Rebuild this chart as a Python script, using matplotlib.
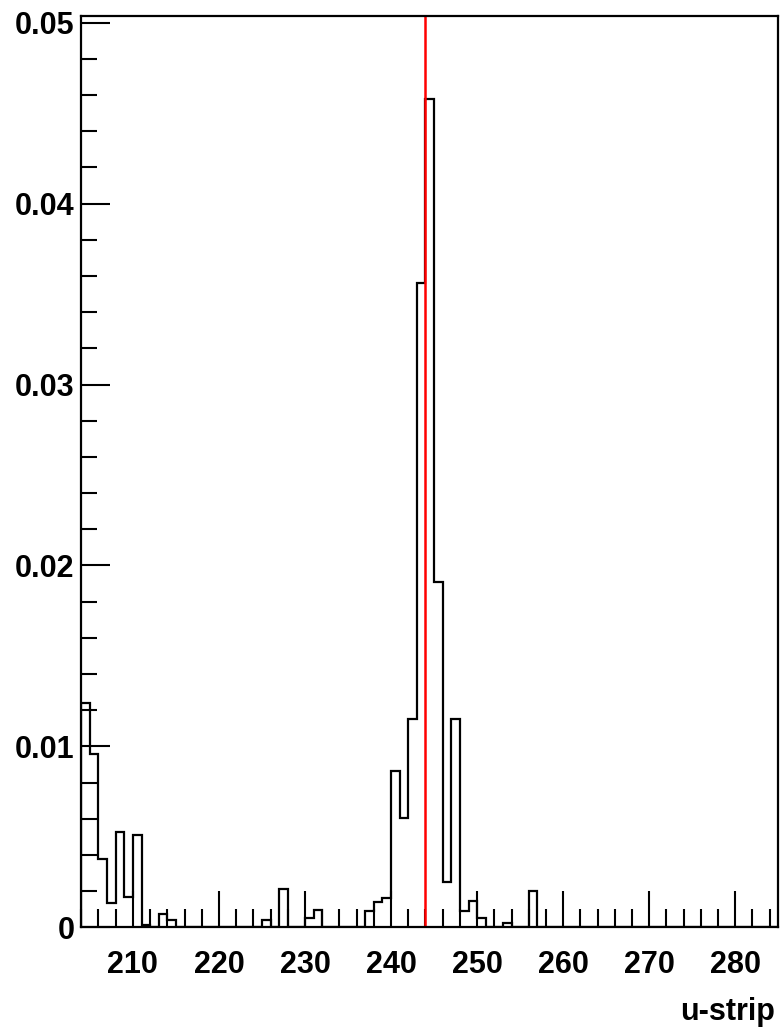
import numpy as np
import matplotlib
matplotlib.use("Agg")
import matplotlib.pyplot as plt
from matplotlib.ticker import MultipleLocator, FuncFormatter

# ---- data ----
x_min, x_max = 204, 285
bin_edges = np.arange(x_min, x_max + 1, 1)
counts = [
    0.01241, 0.00957, 0.00377, 0.00136, 0.00525, 0.00166, 0.00510, 0.00013,  # 204-211
    0.0, 0.00074, 0.00042,                                                    # 212-214
    0.0, 0.0, 0.0, 0.0, 0.0, 0.0, 0.0, 0.0, 0.0, 0.0,                         # 215-224
    0.00042, 0.0, 0.00212, 0.0, 0.0, 0.00053, 0.00094,                        # 225-231
    0.0, 0.0, 0.0, 0.0, 0.0,                                                  # 232-236
    0.00090, 0.00141, 0.00163, 0.00865, 0.00602, 0.01150, 0.03560, 0.04580,   # 237-244
    0.01910, 0.00252, 0.01150, 0.00090, 0.00145, 0.00050,                     # 245-250
    0.0, 0.0, 0.00022, 0.0, 0.0, 0.00200,                                     # 251-256
] + [0.0] * 20 + [0.00003] + [0.0] * 7                                        # 257-284
marker_x = 244
x_label = "u-strip"
y_max = 0.0504

plt.rcParams['font.family'] = ['Liberation Sans', 'DejaVu Sans']
plt.rcParams['font.weight'] = 'bold'

fig = plt.figure(figsize=(7.83, 10.34), dpi=100)
ax = fig.add_axes([0.1038, 0.1032, 0.994 - 0.1038, 0.985 - 0.1032])

ax.stairs(counts, bin_edges, color='black', lw=1.6, baseline=0)
ax.plot([marker_x, marker_x], [0, y_max], color='#ff0000', lw=1.8)

ax.set_xlim(x_min, x_max)
ax.set_ylim(0, y_max)

for s in ax.spines.values():
    s.set_linewidth(1.6)

ax.xaxis.set_major_locator(MultipleLocator(10))
ax.xaxis.set_minor_locator(MultipleLocator(2))
ax.yaxis.set_major_locator(MultipleLocator(0.01))
ax.yaxis.set_minor_locator(MultipleLocator(0.002))

def yfmt(v, pos):
    if abs(v) < 1e-12:
        return "0"
    return f"{v:.2f}"
ax.yaxis.set_major_formatter(FuncFormatter(yfmt))

ax.tick_params(axis='x', which='major', direction='in', length=26, width=1.5,
               top=False, labelsize=22, pad=16)
ax.tick_params(axis='x', which='minor', direction='in', length=13, width=1.5, top=False)
ax.tick_params(axis='y', which='major', direction='in', length=21, width=1.5,
               right=False, labelsize=22, pad=5)
ax.tick_params(axis='y', which='minor', direction='in', length=11.5, width=1.5, right=False)
for lab in ax.get_xticklabels() + ax.get_yticklabels():
    lab.set_fontweight('bold')

fig.text(0.99, 1 - 1012 / 1034, x_label, ha='right', va='center',
         fontsize=22, fontweight='bold')

fig.savefig("out.png", dpi=100)
